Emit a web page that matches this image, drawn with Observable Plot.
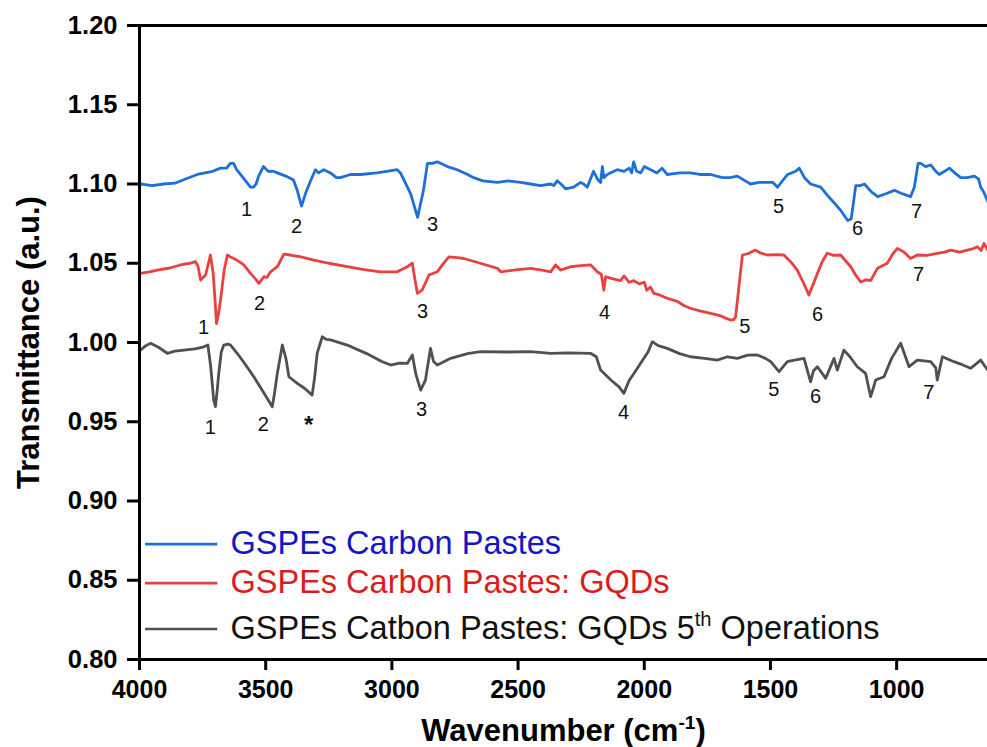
<!DOCTYPE html>
<html><head><meta charset="utf-8">
<script src="https://cdn.jsdelivr.net/npm/d3@7"></script>
<script src="https://cdn.jsdelivr.net/npm/@observablehq/plot@0.6"></script>
<style>
html,body{margin:0;padding:0;background:#fff;}
#chart svg{display:block;}
</style></head><body><div id="chart"></div>
<script>
const seriesNames = ["GSPEs Carbon Pastes", "GSPEs Carbon Pastes: GQDs", "GSPEs Catbon Pastes: GQDs 5th Operations"];
const lineColors = ["#1f6fd8", "#e8413f", "#505050"];
const legendTextColors = ["#1414c8", "#dc1c1c", "#111111"];
const xTicks = [4000, 3500, 3000, 2500, 2000, 1500, 1000];
const yTicks = [0.80, 0.85, 0.90, 0.95, 1.00, 1.05, 1.10, 1.15, 1.20];

const blueWn = [3996,3950,3905,3860,3820,3771,3740,3710,3679,3655,3640,3627,3615,3600,3575,3560,3548,3538,3528,3509,3490,3470,3454,3420,3390,3375,3358,3340,3322,3303,3290,3270,3243,3220,3204,3164,3124,3060,3020,2979,2966,2926,2898,2875,2859,2840,2820,2780,2741,2700,2676,2640,2581,2540,2490,2450,2411,2371,2359,2345,2330,2312,2280,2252,2240,2226,2201,2185,2173,2166,2160,2147,2107,2080,2060,2050,2042,2030,2014,2000,1975,1950,1930,1909,1860,1817,1780,1737,1690,1660,1631,1600,1579,1545,1512,1490,1472,1432,1400,1386,1365,1341,1301,1275,1247,1220,1194,1180,1162,1145,1128,1100,1075,1040,1009,980,945,930,915,905,885,865,845,831,810,791,770,746,720,692,675,667,655,639];
const blueT = [1.100,1.099,1.100,1.1005,1.103,1.106,1.107,1.108,1.110,1.110,1.113,1.113,1.109,1.106,1.101,1.098,1.098,1.100,1.105,1.111,1.108,1.108,1.107,1.105,1.1025,1.096,1.086,1.095,1.102,1.109,1.107,1.109,1.107,1.104,1.104,1.106,1.106,1.107,1.108,1.109,1.107,1.094,1.079,1.096,1.113,1.113,1.114,1.111,1.109,1.106,1.104,1.102,1.101,1.102,1.101,1.100,1.099,1.100,1.099,1.102,1.100,1.097,1.098,1.101,1.100,1.098,1.108,1.103,1.101,1.111,1.104,1.106,1.109,1.108,1.110,1.107,1.114,1.108,1.107,1.111,1.109,1.107,1.110,1.106,1.107,1.107,1.106,1.106,1.104,1.104,1.105,1.102,1.100,1.101,1.101,1.101,1.098,1.106,1.108,1.110,1.104,1.100,1.098,1.093,1.088,1.083,1.077,1.078,1.099,1.099,1.100,1.095,1.092,1.094,1.096,1.094,1.092,1.098,1.113,1.113,1.111,1.112,1.108,1.106,1.108,1.110,1.107,1.104,1.104,1.105,1.103,1.098,1.095,1.089];

const redWn = [3996,3960,3930,3880,3838,3800,3778,3768,3758,3738,3719,3708,3700,3695,3687,3679,3665,3652,3640,3626,3605,3587,3560,3540,3527,3507,3495,3481,3454,3428,3402,3360,3309,3250,3177,3110,3045,2979,2939,2919,2909,2899,2880,2853,2820,2800,2774,2740,2715,2650,2582,2569,2500,2450,2400,2371,2351,2332,2292,2250,2213,2186,2170,2160,2153,2120,2094,2080,2060,2041,2020,2000,1990,1975,1962,1940,1909,1870,1840,1817,1780,1737,1700,1680,1658,1645,1638,1625,1611,1590,1559,1540,1512,1480,1447,1420,1394,1370,1348,1330,1314,1295,1275,1250,1222,1182,1160,1143,1120,1103,1076,1037,1015,997,970,945,918,880,839,810,786,750,720,700,680,665,654,639];
const redT = [1.0436,1.0445,1.0457,1.047,1.0489,1.050,1.051,1.048,1.0394,1.0426,1.0552,1.0436,1.025,1.012,1.018,1.0268,1.045,1.0552,1.054,1.053,1.051,1.049,1.0436,1.040,1.0373,1.0415,1.041,1.0446,1.0478,1.0558,1.0552,1.054,1.052,1.050,1.0478,1.046,1.0446,1.0446,1.0478,1.050,1.040,1.031,1.033,1.0426,1.0446,1.049,1.054,1.0535,1.053,1.050,1.0468,1.0446,1.046,1.0468,1.0455,1.0446,1.049,1.0457,1.0478,1.0485,1.049,1.0446,1.043,1.033,1.0415,1.040,1.039,1.042,1.038,1.039,1.037,1.038,1.033,1.035,1.031,1.030,1.0279,1.026,1.023,1.0216,1.020,1.0184,1.017,1.0155,1.0142,1.0145,1.0163,1.035,1.0552,1.056,1.0583,1.0565,1.0552,1.0555,1.0552,1.051,1.0457,1.038,1.030,1.037,1.0436,1.051,1.0563,1.055,1.0552,1.0478,1.042,1.0383,1.0395,1.039,1.0468,1.050,1.056,1.0594,1.057,1.053,1.0552,1.055,1.0563,1.057,1.0583,1.057,1.0583,1.059,1.0604,1.058,1.0625,1.0583];

const grayWn = [3996,3975,3956,3925,3890,3860,3824,3780,3745,3729,3718,3706,3699,3692,3686,3676,3666,3650,3639,3613,3580,3547,3510,3474,3465,3454,3434,3420,3408,3375,3345,3316,3306,3296,3276,3260,3243,3177,3100,3040,3005,2970,2939,2919,2905,2886,2867,2847,2835,2820,2767,2700,2649,2550,2450,2371,2300,2213,2190,2173,2130,2100,2081,2060,2041,2010,1985,1968,1945,1909,1860,1817,1760,1711,1670,1631,1590,1552,1520,1499,1466,1433,1400,1367,1341,1330,1314,1281,1248,1235,1209,1185,1156,1123,1103,1083,1050,1020,984,951,918,865,845,839,819,773,740,707,667,650,639];
const grayT = [0.9952,0.998,0.9995,0.997,0.9932,0.9945,0.9952,0.996,0.9973,0.9984,0.985,0.9637,0.9595,0.970,0.9805,0.994,0.9984,0.999,0.9984,0.9932,0.986,0.9784,0.969,0.9595,0.968,0.9805,0.9984,0.990,0.9784,0.9742,0.971,0.9668,0.978,0.9932,1.0036,1.002,1.0016,0.9984,0.993,0.988,0.9858,0.987,0.9868,0.9921,0.980,0.9700,0.9763,0.9963,0.988,0.9858,0.9900,0.993,0.9942,0.994,0.9942,0.9932,0.9935,0.9932,0.991,0.9826,0.976,0.972,0.9679,0.976,0.9805,0.988,0.994,1.0005,0.998,0.9963,0.993,0.9910,0.990,0.9889,0.991,0.9900,0.992,0.9921,0.990,0.9879,0.9816,0.9879,0.989,0.9900,0.9752,0.982,0.9847,0.9774,0.9900,0.9826,0.9952,0.991,0.9847,0.9805,0.9658,0.9763,0.9784,0.990,0.9995,0.9847,0.9889,0.9879,0.984,0.9763,0.9910,0.9879,0.986,0.9837,0.9889,0.985,0.9826];

const peakText = ["1","2","3","5","6","7", "1","2","3","4","5","6","7", "1","2","*","3","4","5","6","7"];
const peakWn =   [3576,3378,2839,1468,1155,921, 3746,3524,2878,2157,1602,1313,913, 3719,3509,3330,2882,2082,1487,1321,873];
const peakT =    [1.0836,1.0729,1.0747,1.0855,1.0716,1.0823, 1.0091,1.0243,1.0192,1.0186,1.0098,1.0174,1.0426, 0.9460,0.9479,0.9475,0.9574,0.9555,0.9706,0.9656,0.9687];

const legendSwatchT = [0.8728, 0.8482, 0.8192];

const seriesWn = [blueWn, redWn, grayWn];
const seriesT = [blueT, redT, grayT];
const rows = seriesNames.map((name, s) => seriesWn[s].map((wn, i) => ({series: name, wn, t: seriesT[s][i]})));
const peaks = peakText.map((label, i) => ({label, wn: peakWn[i], t: peakT[i]}));
const digitPeaks = peaks.filter(p => p.label !== "*");
const starPeaks = peaks.filter(p => p.label === "*");

const FONT = "'Liberation Sans', Arial, Helvetica, sans-serif";
const legendDy = [518.5, 557.5, 603.5];

const marks = [
  Plot.axisX({ticks: xTicks, tickSize: 11, tickPadding: 10, strokeWidth: 3, fontSize: 25, fontWeight: "bold", label: null, tickFormat: d3.format("d")}),
  Plot.axisY({ticks: yTicks, tickSize: 12, tickPadding: 10, strokeWidth: 3, fontSize: 25.5, fontWeight: "bold", label: null, tickFormat: d3.format(".2f")}),
];
rows.forEach((r, s) => marks.push(Plot.line(r, {x: "wn", y: "t", stroke: lineColors[s], strokeWidth: 2.8, strokeLinejoin: "round"})));
marks.push(
  Plot.ruleX([4000], {strokeWidth: 3, stroke: "#000"}),
  Plot.ruleY([0.80, 1.20], {strokeWidth: 3, stroke: "#000"}),
  Plot.text(digitPeaks, {x: "wn", y: "t", text: "label", fontSize: 20, fill: "#111"}),
  Plot.text(starPeaks, {x: "wn", y: "t", text: "label", fontSize: 24, fontWeight: "bold", fill: "#111"})
);
seriesNames.forEach((name, s) => {
  marks.push(Plot.ruleY([legendSwatchT[s]], {x1: 3976, x2: 3690, stroke: lineColors[s], strokeWidth: 2.6}));
  marks.push(Plot.text([name], {text: d => d, frameAnchor: "top-left", dx: 91, dy: legendDy[s], textAnchor: "start", lineAnchor: "middle", fontSize: 32.5, fill: legendTextColors[s]}));
});
marks.push(
  Plot.text(["Wavenumber (cm-1)"], {text: d => d, frameAnchor: "bottom", dy: 72, textAnchor: "middle", lineAnchor: "middle", fontSize: 31, fontWeight: "bold", fill: "#000"}),
  Plot.text(["Transmittance (a.u.)"], {text: d => d, frameAnchor: "left", dx: -110, textAnchor: "middle", rotate: -90, lineAnchor: "middle", fontSize: 31, fontWeight: "bold", fill: "#000"})
);

const chart = Plot.plot({
  width: 987, height: 747,
  marginLeft: 139, marginRight: 0, marginTop: 25, marginBottom: 88,
  x: {domain: [4000, 640], label: null},
  y: {domain: [0.80, 1.20], label: null},
  style: {fontFamily: FONT, color: "#000", background: "#fff"},
  marks
});
document.getElementById("chart").appendChild(chart);

function superscript(full, before, sup, after, size) {
  const els = Array.from(chart.querySelectorAll("text, tspan")).filter(e => e.textContent === full && !Array.from(e.children).some(c => c.textContent === full));
  els.forEach(el => {
    while (el.firstChild) el.removeChild(el.firstChild);
    el.appendChild(document.createTextNode(before));
    const s = document.createElementNS("http://www.w3.org/2000/svg", "tspan");
    s.setAttribute("dy", (-size * 0.4) + "px");
    s.setAttribute("font-size", (size * 0.62) + "px");
    s.textContent = sup;
    el.appendChild(s);
    const a = document.createElementNS("http://www.w3.org/2000/svg", "tspan");
    a.setAttribute("dy", (size * 0.4) + "px");
    a.textContent = after;
    el.appendChild(a);
  });
}
superscript("Wavenumber (cm-1)", "Wavenumber (cm", "-1", ")", 31);
superscript("GSPEs Catbon Pastes: GQDs 5th Operations", "GSPEs Catbon Pastes: GQDs 5", "th", " Operations", 32.5);
</script></body></html>
